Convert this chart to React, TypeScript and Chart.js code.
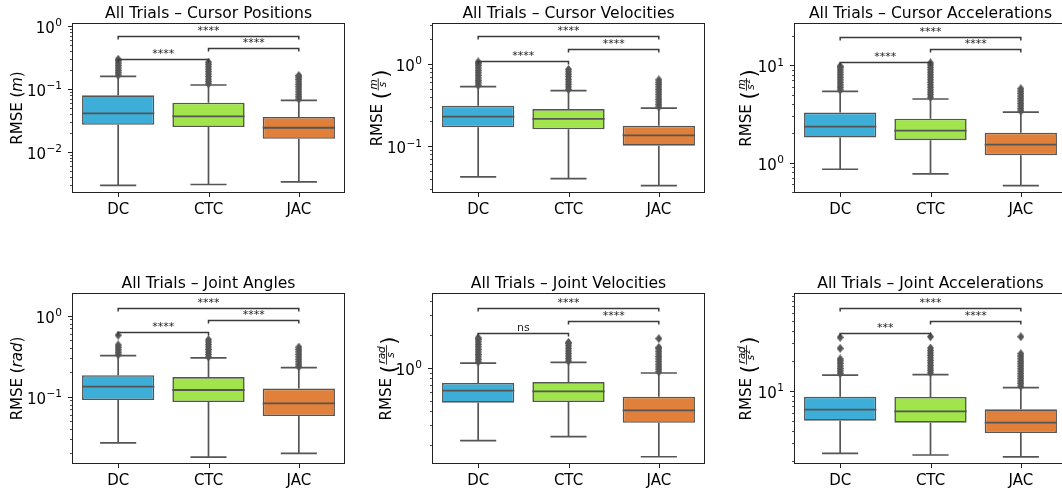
import React, { useEffect, useRef } from "react";
import { Chart, registerables } from "chart.js";
Chart.register(...registerables);

// ---------- data ----------
const groups = ["DC", "CTC", "JAC"];
const pairs = [[0, 1], [1, 2], [0, 2]];

// five-number summaries per group: [lower whisker, Q1, median, Q3, upper whisker]
const cursorPosBoxes = [[0.0029, 0.0268, 0.0407, 0.0788, 0.158], [0.003, 0.0247, 0.0365, 0.06, 0.115], [0.0033, 0.016, 0.024, 0.0356, 0.0656]];
const cursorPosOutliers = [
  [0.165, 0.18, 0.197, 0.215, 0.235, 0.257, 0.28, 0.295],
  [0.12, 0.131, 0.143, 0.157, 0.172, 0.188, 0.206, 0.225, 0.246, 0.265],
  [0.069, 0.075, 0.082, 0.09, 0.099, 0.108, 0.118, 0.129, 0.141, 0.153, 0.163],
];
const cursorPosBrackets = [0.3, 0.446, 0.7];
const cursorPosSig = ["****", "****", "****"];

const cursorVelBoxes = [[0.042, 0.169, 0.228, 0.31, 0.528], [0.04, 0.16, 0.214, 0.282, 0.473], [0.0328, 0.101, 0.135, 0.177, 0.29]];
const cursorVelOutliers = [
  [0.55, 0.59, 0.63, 0.675, 0.725, 0.78, 0.835, 0.895, 0.96, 1.02, 1.06],
  [0.49, 0.525, 0.565, 0.605, 0.65, 0.7, 0.75, 0.805, 0.86],
  [0.3, 0.322, 0.345, 0.37, 0.397, 0.426, 0.457, 0.49, 0.525, 0.563, 0.6, 0.64],
];
const cursorVelBrackets = [1.09, 1.54, 2.19];
const cursorVelSig = ["****", "****", "****"];

const cursorAccBoxes = [[0.855, 1.81, 2.34, 3.27, 5.41], [0.766, 1.7, 2.13, 2.83, 4.51], [0.58, 1.19, 1.53, 2.03, 3.3]];
const cursorAccOutliers = [
  [5.6, 5.95, 6.3, 6.7, 7.1, 7.55, 8.0, 8.5, 9.0, 9.55, 9.8],
  [4.7, 5.0, 5.3, 5.6, 5.95, 6.3, 6.7, 7.1, 7.55, 8.0, 8.5, 9.0, 9.55, 10.1, 10.6],
  [3.4, 3.6, 3.82, 4.05, 4.3, 4.55, 4.83, 5.12, 5.43, 5.75],
];
const cursorAccBrackets = [10.9, 14.6, 19.7];
const cursorAccSig = ["****", "****", "****"];

const jointAngBoxes = [[0.027, 0.091, 0.133, 0.184, 0.321], [0.018, 0.086, 0.121, 0.175, 0.301], [0.02, 0.0578, 0.0828, 0.126, 0.228]];
const jointAngOutliers = [
  [0.33, 0.354, 0.38, 0.408, 0.435, 0.574],
  [0.31, 0.333, 0.357, 0.383, 0.411, 0.441, 0.473, 0.505],
  [0.235, 0.252, 0.27, 0.29, 0.311, 0.334, 0.358, 0.384, 0.41],
];
const jointAngBrackets = [0.634, 0.877, 1.26];
const jointAngSig = ["****", "****", "****"];

const jointVelBoxes = [[0.217, 0.481, 0.618, 0.726, 1.1], [0.236, 0.488, 0.61, 0.741, 1.12], [0.155, 0.316, 0.41, 0.545, 0.895]];
const jointVelOutliers = [
  [1.13, 1.19, 1.255, 1.32, 1.39, 1.465, 1.545, 1.63, 1.72, 1.81, 1.87],
  [1.15, 1.21, 1.275, 1.345, 1.42, 1.5, 1.58, 1.66, 1.7],
  [0.92, 0.97, 1.02, 1.075, 1.135, 1.2, 1.265, 1.335, 1.41, 1.49, 1.53, 1.84],
];
const jointVelBrackets = [2.05, 2.66, 3.51];
const jointVelSig = ["ns", "****", "****"];

const jointAccBoxes = [[2.38, 5.05, 6.5, 8.77, 14.4], [2.29, 4.82, 6.26, 8.71, 14.6], [2.19, 3.8, 4.82, 6.56, 10.8]];
const jointAccOutliers = [
  [15.0, 15.9, 16.8, 17.8, 18.9, 20.0, 20.9, 26.7, 34.4],
  [15.2, 16.1, 17.0, 18.0, 19.1, 20.2, 21.4, 22.7, 24.0, 25.4, 26.9, 34.9],
  [11.2, 11.9, 12.6, 13.3, 14.1, 14.9, 15.8, 16.7, 17.7, 18.7, 19.8, 21.0, 22.3, 23.6, 34.9],
];
const jointAccBrackets = [38.3, 50.1, 68];
const jointAccSig = ["***", "****", "****"];

// ---------- styles ----------
const FONT = '"DejaVu Sans", sans-serif';
const BOX_COLORS = ["#3DAED8", "#A1E44C", "#E0803A"];
const LINE = "#555555";
const AXW = 271;

type Unit = { frac: boolean; num: string; den?: string; sq?: boolean };

const panels = [
  { title: "All Trials – Cursor Positions", boxes: cursorPosBoxes, outliers: cursorPosOutliers, brackets: cursorPosBrackets, sig: cursorPosSig, yMin: 0.00228, yMax: 1.076, unit: { frac: false, num: "m" }, cx: 0, cy: 0, left: 73, top: 24, h: 168, ch: 226, labX: -56.3 },
  { title: "All Trials – Cursor Velocities", boxes: cursorVelBoxes, outliers: cursorVelOutliers, brackets: cursorVelBrackets, sig: cursorVelSig, yMin: 0.0275, yMax: 3.07, unit: { frac: true, num: "m", den: "s" }, cx: 360, cy: 0, left: 433, top: 24, h: 168, ch: 226, labX: -56.3 },
  { title: "All Trials – Cursor Accelerations", boxes: cursorAccBoxes, outliers: cursorAccOutliers, brackets: cursorAccBrackets, sig: cursorAccSig, yMin: 0.499, yMax: 26.6, unit: { frac: true, num: "m", den: "s", sq: true }, cx: 722, cy: 0, left: 795, top: 24, h: 168, ch: 226, labX: -50 },
  { title: "All Trials – Joint Angles", boxes: jointAngBoxes, outliers: jointAngOutliers, brackets: jointAngBrackets, sig: jointAngSig, yMin: 0.0152, yMax: 1.853, unit: { frac: false, num: "rad" }, cx: 0, cy: 270, left: 73, top: 294, h: 169, ch: 223, labX: -56.3 },
  { title: "All Trials – Joint Velocities", boxes: jointVelBoxes, outliers: jointVelOutliers, brackets: jointVelBrackets, sig: jointVelSig, yMin: 0.136, yMax: 4.68, unit: { frac: true, num: "rad", den: "s" }, cx: 360, cy: 270, left: 433, top: 294, h: 169, ch: 223, labX: -48 },
  { title: "All Trials – Joint Accelerations", boxes: jointAccBoxes, outliers: jointAccOutliers, brackets: jointAccBrackets, sig: jointAccSig, yMin: 1.905, yMax: 93.3, unit: { frac: true, num: "rad", den: "s", sq: true }, cx: 722, cy: 270, left: 795, top: 294, h: 169, ch: 223, labX: -50 },
];

const CW = 354;

function drawYLabel(ctx: CanvasRenderingContext2D, cx: number, cy: number, unit: Unit) {
  ctx.save();
  ctx.translate(cx, cy);
  ctx.rotate(-Math.PI / 2);
  ctx.fillStyle = "#000";
  ctx.textAlign = "left";
  ctx.textBaseline = "alphabetic";
  const base = `15px ${FONT}`;
  const ital = `italic 15px ${FONT}`;
  const small = `italic 10.5px ${FONT}`;
  const sup = `7.5px ${FONT}`;
  const big = `21px ${FONT}`;
  const bl = 5.5;
  if (!unit.frac) {
    ctx.font = base;
    const w1 = ctx.measureText("RMSE (").width;
    const w3 = ctx.measureText(")").width;
    ctx.font = ital;
    const w2 = ctx.measureText(unit.num).width;
    let x = -(w1 + w2 + w3) / 2;
    ctx.font = base; ctx.fillText("RMSE (", x, bl); x += w1;
    ctx.font = ital; ctx.fillText(unit.num, x, bl); x += w2;
    ctx.font = base; ctx.fillText(")", x, bl);
  } else {
    ctx.font = base;
    const wR = ctx.measureText("RMSE ").width;
    ctx.font = big;
    const wP = ctx.measureText("(").width;
    ctx.font = small;
    const wn = ctx.measureText(unit.num).width;
    const wd0 = ctx.measureText(unit.den || "").width;
    ctx.font = sup;
    const ws = unit.sq ? ctx.measureText("2").width + 0.5 : 0;
    const wd = wd0 + ws;
    const wf = Math.max(wn, wd) + 3;
    let x = -(wR + wP + wf + wP) / 2;
    ctx.font = base; ctx.fillText("RMSE", x, bl); x += wR;
    const pb = 10.8;
    ctx.font = big; ctx.fillText("(", x, pb); x += wP;
    const bar = 1.5;
    ctx.font = small;
    ctx.fillText(unit.num, x + (wf - wn) / 2, bar - 1.2);
    const dx = x + (wf - wd) / 2;
    ctx.fillText(unit.den || "", dx, bar + 7.6);
    if (unit.sq) {
      ctx.font = sup;
      ctx.fillText("2", dx + wd0 + 0.5, bar + 3.6);
    }
    ctx.fillRect(x + 0.5, bar - 0.4, wf - 1, 0.8);
    x += wf;
    ctx.font = big; ctx.fillText(")", x, pb);
  }
  ctx.restore();
}

function makeDecor(cfg: any) {
  return {
    id: "decor",
    beforeDatasetsDraw(chart: any) {
      const { ctx, scales } = chart;
      const x = scales.x, y = scales.y;
      const bw = (x.getPixelForValue(1) - x.getPixelForValue(0)) * 0.8;
      ctx.save();
      ctx.strokeStyle = LINE;
      ctx.lineWidth = 1.7;
      cfg.boxes.forEach((b: number[], i: number) => {
        const cx = x.getPixelForValue(i);
        const lo = y.getPixelForValue(b[0]);
        const q1 = y.getPixelForValue(b[1]);
        const q3 = y.getPixelForValue(b[3]);
        const hi = y.getPixelForValue(b[4]);
        ctx.beginPath();
        ctx.moveTo(cx, q1); ctx.lineTo(cx, lo);
        ctx.moveTo(cx, q3); ctx.lineTo(cx, hi);
        ctx.moveTo(cx - bw / 4, lo); ctx.lineTo(cx + bw / 4, lo);
        ctx.moveTo(cx - bw / 4, hi); ctx.lineTo(cx + bw / 4, hi);
        ctx.stroke();
      });
      ctx.restore();
    },
    afterDatasetsDraw(chart: any) {
      const { ctx, scales } = chart;
      const x = scales.x, y = scales.y;
      const bw = (x.getPixelForValue(1) - x.getPixelForValue(0)) * 0.8;
      ctx.save();
      ctx.strokeStyle = LINE;
      ctx.lineWidth = 1.8;
      cfg.boxes.forEach((b: number[], i: number) => {
        const cx = x.getPixelForValue(i);
        const m = y.getPixelForValue(b[2]);
        ctx.beginPath();
        ctx.moveTo(cx - bw / 2, m); ctx.lineTo(cx + bw / 2, m);
        ctx.stroke();
      });
      ctx.restore();
    },
    afterDraw(chart: any) {
      const { ctx, chartArea: ca, scales } = chart;
      const x = scales.x, y = scales.y;
      ctx.save();
      // frame
      ctx.strokeStyle = "#222";
      ctx.lineWidth = 1;
      ctx.strokeRect(ca.left - 0.5, ca.top - 0.5, ca.right - ca.left + 1, ca.bottom - ca.top + 1);
      // y ticks
      const eMin = Math.floor(Math.log10(y.min));
      const eMax = Math.ceil(Math.log10(y.max));
      ctx.fillStyle = "#000";
      for (let e = eMin; e <= eMax; e++) {
        for (let s = 1; s <= 9; s++) {
          const v = s * Math.pow(10, e);
          if (v < y.min || v > y.max) continue;
          const py = Math.round(y.getPixelForValue(v)) + 0.5;
          ctx.beginPath();
          ctx.lineWidth = s === 1 ? 1 : 0.8;
          ctx.moveTo(ca.left - 0.5, py);
          ctx.lineTo(ca.left - (s === 1 ? 5 : 3), py);
          ctx.stroke();
          if (s === 1) {
            const expStr = e < 0 ? "−" + Math.abs(e) : String(e);
            ctx.textAlign = "left";
            ctx.textBaseline = "alphabetic";
            ctx.font = `15px ${FONT}`;
            const wb = ctx.measureText("10").width;
            ctx.font = `10.5px ${FONT}`;
            const we = ctx.measureText(expStr).width;
            const xs = ca.left - 11 - wb - we - 0.5;
            const ty = y.getPixelForValue(v);
            ctx.font = `15px ${FONT}`;
            ctx.fillText("10", xs, ty + 7);
            ctx.font = `10.5px ${FONT}`;
            ctx.fillText(expStr, xs + wb + 0.5, ty + 0.5);
          }
        }
      }
      // x ticks & labels
      ctx.lineWidth = 1;
      groups.forEach((g, i) => {
        const px = Math.round(x.getPixelForValue(i)) + 0.5;
        ctx.beginPath();
        ctx.moveTo(px, ca.bottom);
        ctx.lineTo(px, ca.bottom + 5);
        ctx.stroke();
        ctx.font = `15px ${FONT}`;
        ctx.textAlign = "center";
        ctx.textBaseline = "alphabetic";
        ctx.fillText(g, x.getPixelForValue(i), ca.bottom + 22);
      });
      // title
      ctx.font = `15.6px ${FONT}`;
      ctx.textAlign = "center";
      ctx.fillText(cfg.title, (ca.left + ca.right) / 2, ca.top - 6.5);
      // y label
      drawYLabel(ctx, ca.left + cfg.labX, (ca.top + ca.bottom) / 2, cfg.unit);
      // significance brackets
      ctx.strokeStyle = "#3a3a3a";
      ctx.lineWidth = 1.5;
      cfg.brackets.forEach((bv: number, k: number) => {
        const [a, c] = pairs[k];
        const xa = x.getPixelForValue(a), xc = x.getPixelForValue(c);
        const by = Math.round(y.getPixelForValue(bv)) + 0.5;
        ctx.beginPath();
        ctx.moveTo(xa, by + 3);
        ctx.lineTo(xa, by);
        ctx.lineTo(xc, by);
        ctx.lineTo(xc, by + 3);
        ctx.stroke();
        ctx.font = `11px ${FONT}`;
        ctx.fillStyle = "#222";
        ctx.textAlign = "center";
        ctx.fillText(cfg.sig[k], (xa + xc) / 2, by - 3);
      });
      ctx.restore();
    },
  };
}

function makeDiamond() {
  const c = document.createElement("canvas");
  c.width = 7;
  c.height = 9;
  const g = c.getContext("2d")!;
  g.fillStyle = LINE;
  g.beginPath();
  g.moveTo(3.5, 0);
  g.lineTo(7, 4.5);
  g.lineTo(3.5, 9);
  g.lineTo(0, 4.5);
  g.closePath();
  g.fill();
  return c;
}

function Panel({ cfg }: { cfg: any }) {
  const ref = useRef<HTMLCanvasElement>(null);
  useEffect(() => {
    const canvas = ref.current!;
    const diamond = makeDiamond();
    const padLeft = cfg.left - cfg.cx;
    const padTop = cfg.top - cfg.cy;
    const chart = new Chart(canvas, {
      type: "bar",
      data: {
        labels: groups,
        datasets: [
          {
            type: "bar",
            data: cfg.boxes.map((b: number[]) => [b[1], b[3]]),
            backgroundColor: BOX_COLORS,
            borderColor: LINE,
            borderWidth: 1.6,
            borderSkipped: false,
            barPercentage: 0.8,
            categoryPercentage: 1,
          } as any,
          {
            type: "scatter",
            data: cfg.outliers.flatMap((arr: number[], i: number) => arr.map((v) => ({ x: groups[i], y: v }))),
            pointStyle: diamond,
            pointRadius: 4,
            showLine: false,
          } as any,
        ],
      },
      options: {
        responsive: false,
        animation: false,
        devicePixelRatio: 1,
        events: [],
        layout: {
          padding: {
            left: padLeft,
            top: padTop,
            right: CW - padLeft - AXW,
            bottom: cfg.ch - padTop - cfg.h,
          },
        },
        plugins: { legend: { display: false }, tooltip: { enabled: false }, title: { display: false } },
        scales: {
          x: { type: "category", display: false, offset: true },
          y: { type: "logarithmic", display: false, min: cfg.yMin, max: cfg.yMax },
        },
      } as any,
      plugins: [makeDecor(cfg) as any],
    });
    return () => chart.destroy();
  }, []);
  return (
    <canvas
      ref={ref}
      width={CW}
      height={cfg.ch}
      style={{ position: "absolute", left: cfg.cx, top: cfg.cy, width: CW, height: cfg.ch }}
    />
  );
}

export default function App() {
  return (
    <div style={{ position: "absolute", left: 0, top: 0, width: 1062, height: 493, overflow: "hidden", background: "#fff" }}>
      {panels.map((p, i) => (
        <Panel key={i} cfg={p} />
      ))}
    </div>
  );
}
